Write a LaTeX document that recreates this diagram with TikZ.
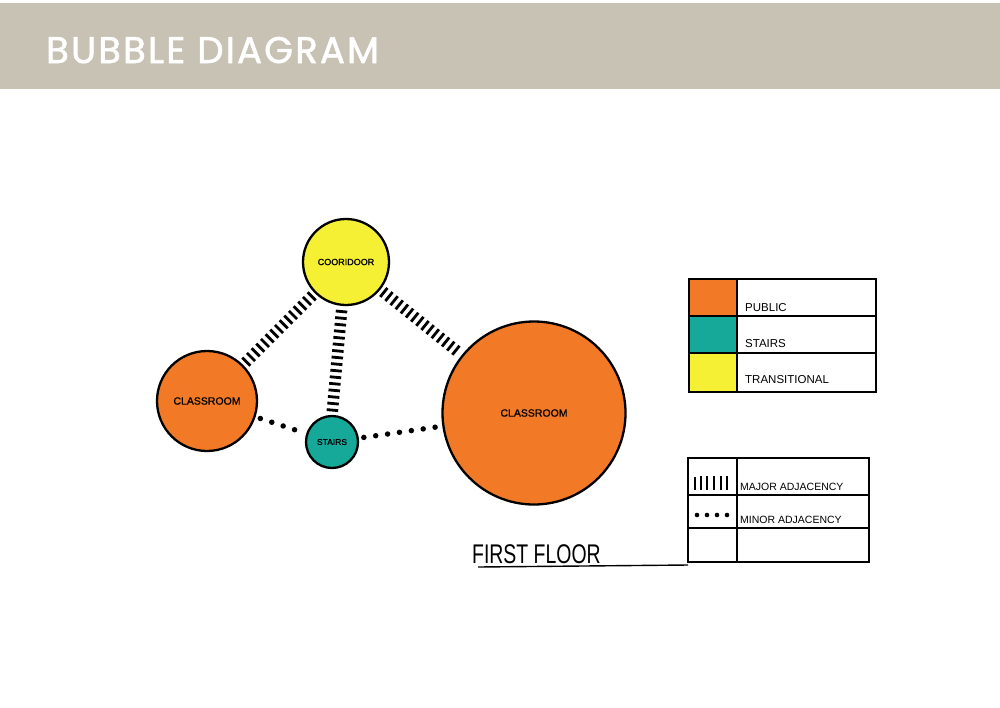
\documentclass[tikz,border=0pt]{standalone}
\usepackage{fontspec}
\setmainfont{Liberation Sans}
\newfontfamily\headfont[FakeBold=1.6,LetterSpace=6]{Poppins}
\newfontfamily\handfont[FakeBold=0.8]{Liberation Sans}
\definecolor{band}{RGB}{200,194,180}
\definecolor{pub}{RGB}{242,122,38}
\definecolor{trans}{RGB}{245,240,52}
\definecolor{stair}{RGB}{22,168,152}
\tikzset{
  bubble/.style={circle,draw=black,line width=2.3pt,inner sep=0pt,font=\handfont\fontsize{9}{10}\selectfont},
  major/.style={draw=black,line width=11.5pt,dash pattern=on 2.8pt off 3.8pt},
  minor/.style={draw=black,line width=5.5pt,line cap=round,dash pattern=on 0pt off 12pt},
  grid/.style={draw=black,line width=1.3pt},
  lbl/.style={anchor=west,inner sep=0pt,font=\fontsize{11.5}{12}\selectfont},
}
\begin{document}
\begin{tikzpicture}[x=1pt,y=-1pt]
\useasboundingbox (0,0) rectangle (1000,707);
\fill[white] (0,0) rectangle (1000,707);
\fill[band] (0,3) rectangle (1000,89);
\node[anchor=base west,inner sep=0pt,text=white,font=\headfont\fontsize{37}{40}\selectfont] (title) at (46,63) {BUBBLE DIAGRAM};

% bubbles
\node[bubble,fill=trans,minimum size=86pt] (cor) at (346,262) {COORIDOOR};
\node[bubble,fill=pub,minimum size=100pt,font=\handfont\fontsize{10.5}{11}\selectfont] (lc) at (207,401) {CLASSROOM};
\node[bubble,fill=stair,minimum size=52pt,font=\handfont\fontsize{8.5}{9}\selectfont] (st) at (332,442) {STAIRS};
\node[bubble,fill=pub,minimum size=183pt,font=\handfont\fontsize{10.5}{11}\selectfont] (rc) at (534,413) {CLASSROOM};

% adjacencies
\draw[major,shorten >=3pt,shorten <=3pt] (cor) -- (lc);
\draw[major,shorten >=3pt,shorten <=4pt] (cor.south) ++(-4,0) coordinate (cs) -- (st.north);
\draw[major,shorten >=3pt,shorten <=3pt] (cor) -- (rc);
\draw[minor,shorten >=6pt,shorten <=5pt] (lc) -- (st);
\draw[minor,shorten >=5pt,shorten <=5pt] (st) -- (rc);

% legend 1
\fill[pub] (689,279) rectangle (737,316);
\fill[stair] (689,316) rectangle (737,353);
\fill[trans] (689,353) rectangle (737,392);
\draw[grid] (689,279) rectangle (876,392);
\draw[grid] (689,316) -- (876,316);
\draw[grid] (689,353) -- (876,353);
\draw[grid] (737,279) -- (737,392);
\node[lbl] (l1) at (745,308) {PUBLIC};
\node[lbl] (l2) at (745,344) {STAIRS};
\node[lbl] (l3) at (745,380) {TRANSITIONAL};

% legend 2
\draw[grid] (688,458) rectangle (869,562);
\draw[grid] (688,495) -- (869,495);
\draw[grid] (688,528) -- (869,528);
\draw[grid] (737,458) -- (737,562);
\draw[line width=1.6pt] (695,477) -- (695,490) (701,476) -- (701,490) (707,476) -- (707,490) (714,476) -- (714,490) (721,476) -- (721,490) (727,476) -- (727,490);
\foreach \x in {697,707,717,727} \fill (\x,515) circle (2.3pt);
\node[lbl,font=\fontsize{10.5}{11}\selectfont] (l4) at (740,487) {MAJOR ADJACENCY};
\node[lbl,font=\fontsize{10.5}{11}\selectfont] (l5) at (740,520) {MINOR ADJACENCY};

% first floor
\node[anchor=base west,inner sep=0pt,font=\fontsize{27}{28}\selectfont,xscale=0.72,transform shape] (ff) at (472,563) {FIRST FLOOR};
\coordinate (ulA) at (478,567);
\draw[line width=1.4pt] (ulA) -- (688,565);
\end{tikzpicture}
\end{document}
